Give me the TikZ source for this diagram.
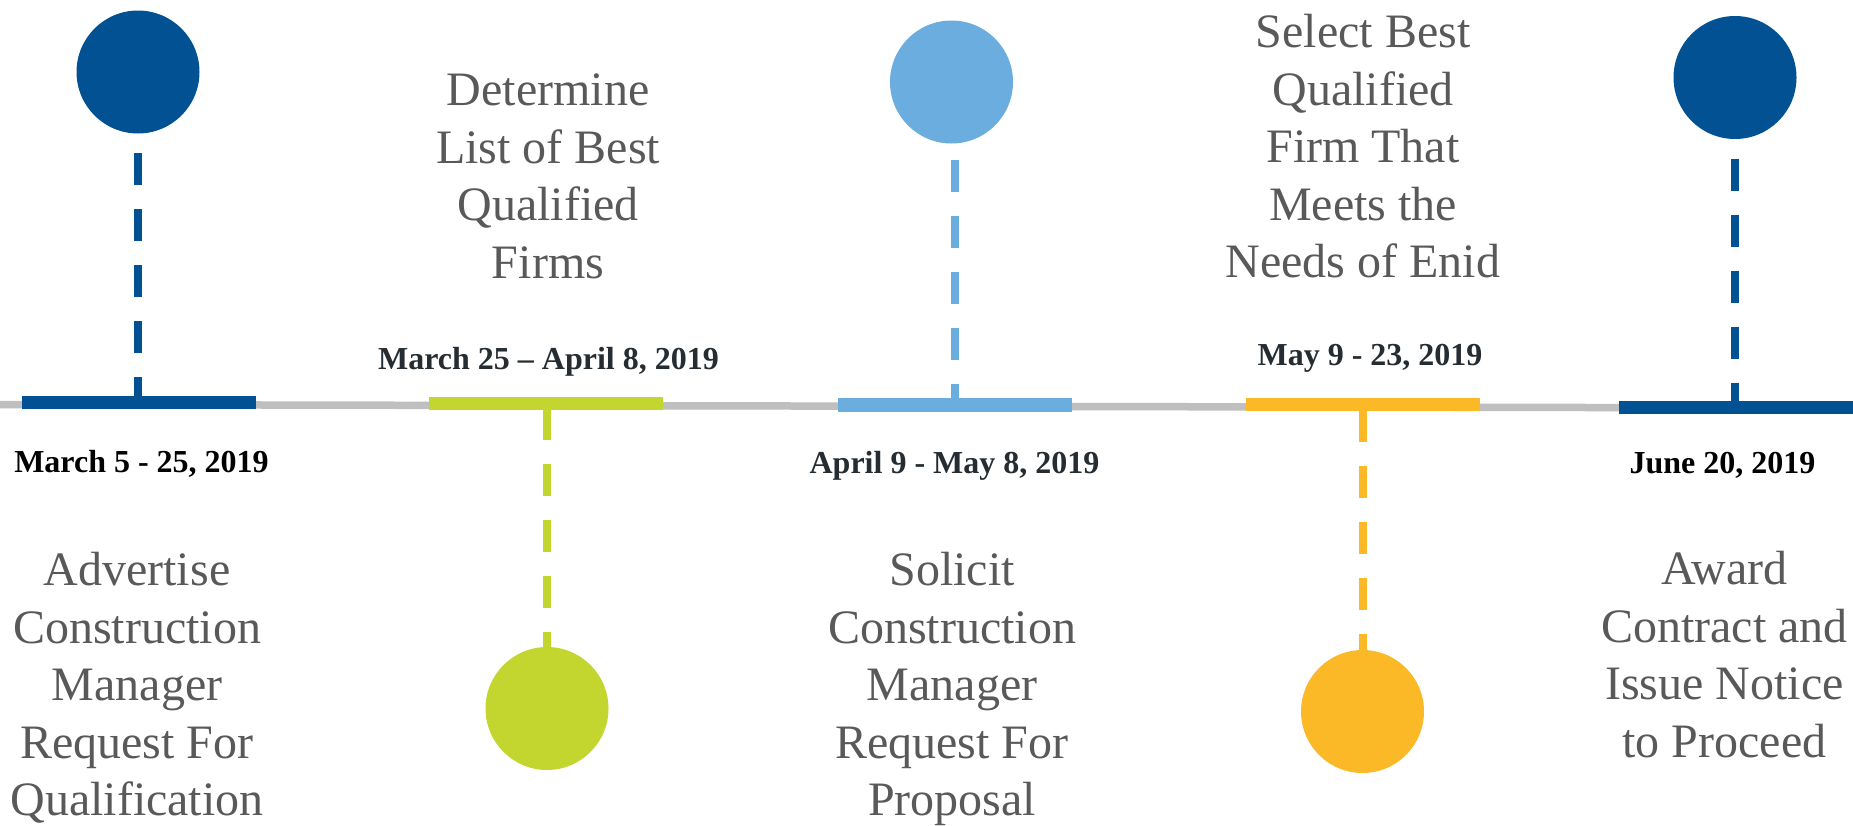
\documentclass[tikz,border=0pt]{standalone}
\usepackage{fontspec}
\setmainfont{Liberation Serif}
\usetikzlibrary{calc}

\definecolor{navy}{RGB}{2,82,147}
\definecolor{lime}{RGB}{194,214,47}
\definecolor{sky}{RGB}{106,173,222}
\definecolor{amber}{RGB}{251,184,39}
\definecolor{railgrey}{RGB}{191,191,191}
\definecolor{textgrey}{RGB}{89,89,89}
\definecolor{slate}{RGB}{37,45,50}

\begin{document}
\begin{tikzpicture}[x=1pt, y=-1pt,
		dot/.style={circle, fill=#1, minimum size=123pt, inner sep=0pt},
		bar/.style={rectangle, fill=#1, minimum width=234pt, minimum height=13.5pt, inner sep=0pt},
		stem/.style={draw=#1, line width=8pt, dash pattern=on 32pt off 24pt},
		datelbl/.style={font=\fontsize{32}{37}\selectfont\bfseries, text=#1, inner sep=0pt, anchor=base},
		desc/.style={font=\fontsize{48}{57.5}\selectfont, text=textgrey, align=center, inner sep=0pt, anchor=north}]
		%%%%% START %%%%%
		
		\useasboundingbox (0, 0) rectangle (1853, 825);
		
		\draw[railgrey, line width=7.5pt] (0, 404.5) -- (1853, 408);
		
		\node[bar=navy] (bar1) at (139, 402.5) {};
		\node[bar=lime] (bar2) at (546, 403.5) {};
		\node[bar=sky] (bar3) at (954.5, 405) {};
		\node[bar=amber] (bar4) at (1362.5, 404.5) {};
		\node[bar=navy] (bar5) at (1736, 407.5) {};
		
		\node[dot=navy] (dot1) at (138, 72) {};
		\node[dot=lime] (dot2) at (547, 708.5) {};
		\node[dot=sky] (dot3) at (951.5, 82) {};
		\node[dot=amber] (dot4) at (1362.5, 711.5) {};
		\node[dot=navy] (dot5) at (1735, 77.5) {};
		
		\draw[stem=navy] ($(dot1.south)+(0, 19.5)$) -- (dot1.south |- bar1.north);
		\draw[stem=lime] ($(dot2.north |- bar2.center)+(0, 4.5)$) -- (dot2.north);
		\draw[stem=sky] ($(bar3.north |- dot3.south)+(0, 16)$) -- (bar3.north);
		\draw[stem=amber] ($(dot4.north |- bar4.center)+(0, 5.5)$) -- (dot4.north);
		\draw[stem=navy] ($(dot5.south)+(0, 19.5)$) -- (dot5.south |- bar5.north);
		
		\node[datelbl=black] (date1) at (141.5, 472) {March 5 - 25, 2019};
		\node[datelbl=slate] (date2) at (548.5, 369) {March 25 – April 8, 2019};
		\node[datelbl=slate] (date3) at (954.5, 473) {April 9 - May 8, 2019};
		\node[datelbl=slate] (date4) at (1370, 365) {May 9 - 23, 2019};
		\node[datelbl=black] (date5) at (1722.5, 473) {June 20, 2019};
		
		\node[desc] (task1) at (137, 552) {Advertise\\Construction\\Manager\\Request For\\Qualification};
		\node[desc] (task2) at (548, 74) {Determine\\List of Best\\Qualified\\Firms};
		\node[desc] (task3) at (952, 552) {Solicit\\Construction\\Manager\\Request For\\Proposal};
		\node[desc] (task4) at (1363, 14) {Select Best\\Qualified\\Firm That\\Meets the\\Needs of Enid};
		\node[desc] (task5) at (1724.5, 551) {Award\\Contract and\\Issue Notice\\to Proceed};
		
		%%%%% END %%%%%
	\end{tikzpicture}
\end{document}
